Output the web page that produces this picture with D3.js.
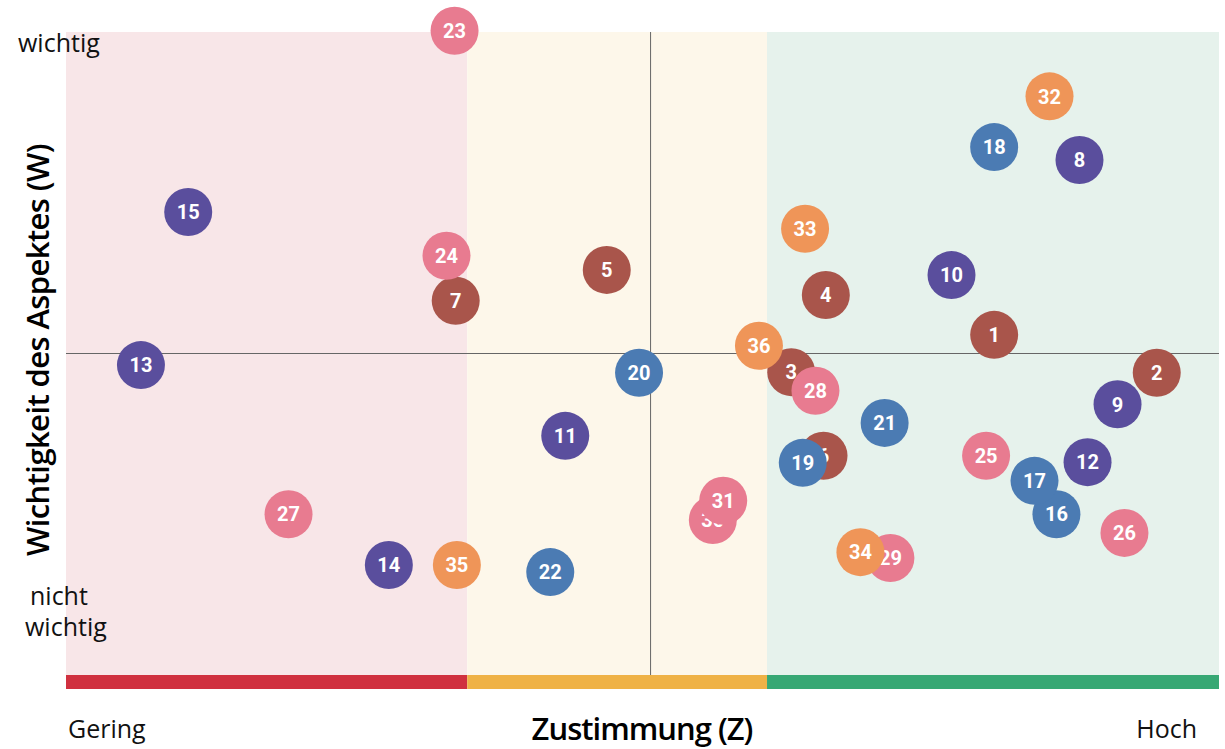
<!DOCTYPE html>
<html>
	<head>
		<script src="https://d3js.org/d3.v7.min.js"></script>
	</head>
	<body style="margin:0;background:#fff">
		<svg id="chart" width="1225" height="749"></svg>
	</body>
	<script>
	// aspect numbers, agreement (Z) and importance (W), 0..100
	var ids = [1,2,3,4,5,6,7,8,9,10,11,12,13,14,15,16,17,18,19,20,21,22,23,24,25,26,27,28,29,30,31,32,33,34,35,36]
	var zVals = [80.5,94.6,62.9,65.9,46.9,65.7,33.8,87.9,91.2,76.8,43.3,88.6,6.5,28.0,10.6,85.9,84.0,80.5,63.9,49.7,71.0,42.0,33.7,33.0,79.8,91.8,19.3,65.0,71.5,56.1,57.0,85.3,64.1,68.9,33.9,60.1]
	var wVals = [52.9,47.0,47.1,59.1,63.0,34.1,58.2,80.1,42.1,62.2,37.2,33.1,48.2,17.1,72.0,25.0,30.2,82.1,33.0,47.0,39.2,16.0,100.2,65.2,34.1,22.1,25.0,44.2,18.2,24.1,27.1,90.0,69.4,19.1,17.1,51.2]
	var groups = ["a","a","a","a","a","a","a","b","b","b","b","b","b","b","b","c","c","c","c","c","c","c","d","d","d","d","d","d","d","d","d","e","e","e","e","e"]
	var groupNames = ["a","b","c","d","e"]
	var groupColors = ["#a9554b","#5a4e9d","#4b7bb3","#e87b90","#ef9558"]

	var zoneBreaks = [0, 34.8, 60.8, 100]
	var zoneFills = ["#f8e6e8","#fdf7ea","#e6f2ec"]
	var zoneBars = ["#d0303f","#efb246","#37a874"]
	var crossZ = 50.7, crossW = 50

	var svg = d3.select("#chart")

	var x = d3.scaleLinear().domain([0, 100]).range([66, 1219])
	var y = d3.scaleLinear().domain([0, 100]).range([675, 32])
	var color = d3.scaleOrdinal().domain(groupNames).range(groupColors)

	var zones = d3.range(3).map(function(i){ return {a: zoneBreaks[i], b: zoneBreaks[i+1], fill: zoneFills[i], bar: zoneBars[i]} })

	// background zones
	svg.append("g").selectAll("rect")
		.data(zones).enter().append("rect")
			.attr("x", function(d){ return x(d.a) })
			.attr("width", function(d){ return x(d.b) - x(d.a) })
			.attr("y", y(100))
			.attr("height", y(0) - y(100))
			.attr("fill", function(d){ return d.fill })

	// coloured bar under the plot
	svg.append("g").selectAll("rect")
		.data(zones).enter().append("rect")
			.attr("x", function(d){ return x(d.a) })
			.attr("width", function(d){ return x(d.b) - x(d.a) })
			.attr("y", y(0))
			.attr("height", 14)
			.attr("fill", function(d){ return d.bar })

	// cross lines
	svg.append("line")
		.attr("x1", x(crossZ)).attr("x2", x(crossZ))
		.attr("y1", y(100)).attr("y2", y(0))
		.style("stroke", "#666").style("stroke-width", 1)
	svg.append("line")
		.attr("x1", x(0)).attr("x2", x(100))
		.attr("y1", y(crossW)).attr("y2", y(crossW))
		.style("stroke", "#666").style("stroke-width", 1)

	var points = ids.map(function(id, i){ return {id: id, z: zVals[i], w: wVals[i], g: groups[i]} })

	var bubble = svg.append("g").selectAll("g")
		.data(points).enter().append("g")
			.attr("transform", function(d){ return "translate(" + x(d.z) + "," + y(d.w) + ")" })
	bubble.append("circle")
		.attr("r", 24)
		.attr("fill", function(d){ return color(d.g) })
	bubble.append("text")
		.text(function(d){ return d.id })
		.attr("text-anchor", "middle")
		.attr("dy", "0.36em")
		.style("font-family", "Roboto, sans-serif")
		.style("font-weight", "bold")
		.style("font-size", "20px")
		.style("fill", "#fff")

	// labels
	var lbl = "'Open Sans', sans-serif"
	function label(t, px, py, anchor){
		return svg.append("text").text(t)
			.attr("x", px).attr("y", py).attr("text-anchor", anchor || "start")
			.style("font-family", lbl).style("font-size", "25px").style("fill", "#111")
	}
	label("wichtig", 18, 52)
	label("nicht", 30, 605)
	label("wichtig", 25, 636)
	label("Gering", 68, 738)
	label("Hoch", 1197, 738, "end")

	svg.append("text").text("Zustimmung (Z)")
		.attr("x", 642).attr("y", 740).attr("text-anchor", "middle")
		.style("font-family", lbl).style("font-size", "31px").style("font-weight", 600)
		.style("letter-spacing", "-1px").style("fill", "#000")
	svg.append("text").text("Wichtigkeit des Aspektes (W)")
		.attr("transform", "translate(49,350) rotate(-90)")
		.attr("text-anchor", "middle")
		.style("font-family", lbl).style("font-size", "31px").style("font-weight", 600)
		.style("letter-spacing", "-0.6px").style("fill", "#000")
	</script>
</html>
